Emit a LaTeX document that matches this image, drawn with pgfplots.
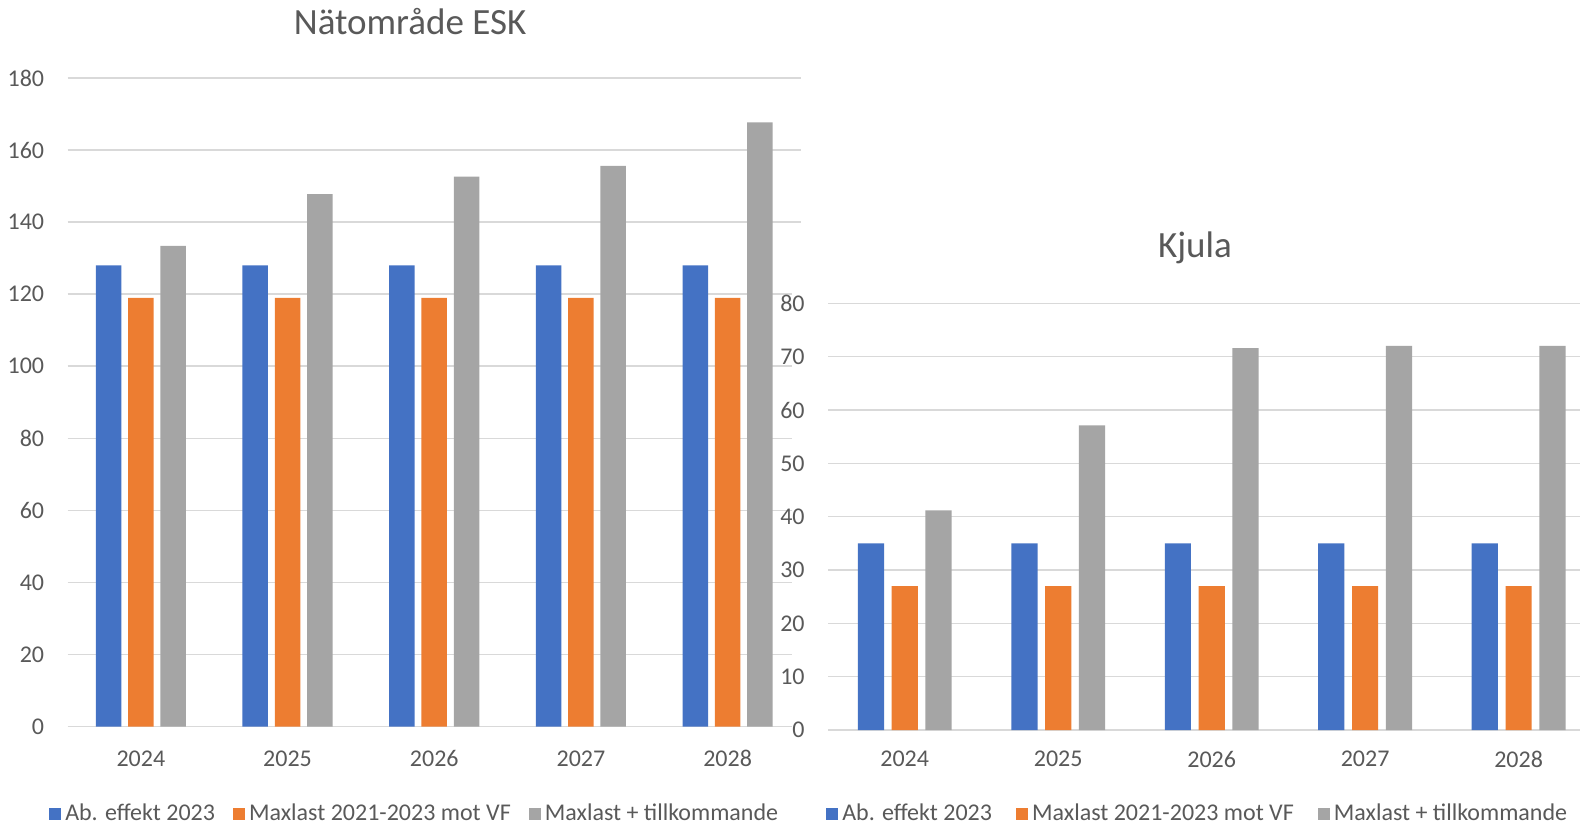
\documentclass[border=0pt]{standalone}
\usepackage{fontspec}
\setmainfont{Carlito}
\usepackage{pgfplots}
\pgfplotsset{compat=1.18}
\definecolor{cblue}{HTML}{4472C4}
\definecolor{corange}{HTML}{ED7D31}
\definecolor{cgray}{HTML}{A5A5A5}
\definecolor{tgray}{HTML}{595959}
\definecolor{ggray}{HTML}{D9D9D9}
\pgfplotsset{
  sq/.style={legend image code/.code={\fill[##1] (0pt,-3pt) rectangle (6pt,3pt);}},
  common/.style={
    scale only axis,
    anchor=south west,
    /pgf/number format/assume math mode=true,
    axis line style={draw=none},
    major tick length=0pt,
    ymajorgrids,
    grid style={ggray, line width=0.75pt},
    xmin=-0.5,
    xtick={0,1,2,3,4},
    xticklabels={2024,2025,2026,2027,2028},
    ticklabel style={font=\fontsize{12}{14}\selectfont, text=tgray},
    xticklabel style={anchor=center, yshift=-16pt},
    yticklabel style={anchor=east, inner sep=0pt, xshift=-11.5pt},
    every axis title/.style={at={(0.5,1)}, anchor=center, font=\fontsize{18.5}{21}\selectfont, text=tgray},
    legend columns=3,
    legend cell align=left,
    legend style={draw=none, fill=none, font=\fontsize{12}{14}\selectfont, text=tgray, anchor=center,
      inner sep=0pt, nodes={inner ysep=0.5pt},
      /tikz/every even column/.append style={column sep=7pt}},
  }
}
\begin{document}
\begin{tikzpicture}[x=1pt,y=1pt]
\path[use as bounding box] (0,0) rectangle (790,410.5);
\begin{axis}[common,
  at={(33.75pt,47.25pt)},
  width=366.75pt, height=324.25pt,
  xmax=4.5, ymin=0, ymax=180, ytick={0,20,...,180},
  ybar=3.4pt, bar width=12.75pt,
  title={Nätområde ESK},
  title style={at={(axis description cs:0.467,1.0864)}},
  legend style={at={(axis description cs:0.4747,-0.1342)}},
]
\addplot[sq, fill=cblue, draw=none] coordinates {(0,128) (1,128) (2,128) (3,128) (4,128)};
\addplot[sq, fill=corange, draw=none] coordinates {(0,119) (1,119) (2,119) (3,119) (4,119)};
\addplot[sq, fill=cgray, draw=none] coordinates {(0,133.4) (1,147.8) (2,152.6) (3,155.6) (4,167.7)};
\legend{Ab. effekt 2023, Maxlast 2021-2023 mot VF, Maxlast + tillkommande}
\end{axis}
\fill[white] (396,0) rectangle (790,295);
\begin{axis}[common,
  at={(414pt,45.5pt)},
  width=376pt, height=213.35pt,
  xmax=4.40, ymin=0, ymax=80, ytick={0,10,...,80},
  ybar=3.8pt, bar width=13.1pt,
  xticklabel style={yshift=1.5pt},
  title={Kjula},
  title style={at={(axis description cs:0.488,1.1296)}},
  legend style={at={(axis description cs:0.493,-0.1964)},
    /tikz/every even column/.append style={column sep=10pt}},
]
\addplot[sq, fill=cblue, draw=none] coordinates {(0,35) (1,35) (2,35) (3,35) (4,35)};
\addplot[sq, fill=corange, draw=none] coordinates {(0,27) (1,27) (2,27) (3,27) (4,27)};
\addplot[sq, fill=cgray, draw=none] coordinates {(0,41.2) (1,57.1) (2,71.6) (3,72) (4,72)};
\legend{Ab. effekt 2023, Maxlast 2021-2023 mot VF, Maxlast + tillkommande}
\end{axis}
\end{tikzpicture}
\end{document}
